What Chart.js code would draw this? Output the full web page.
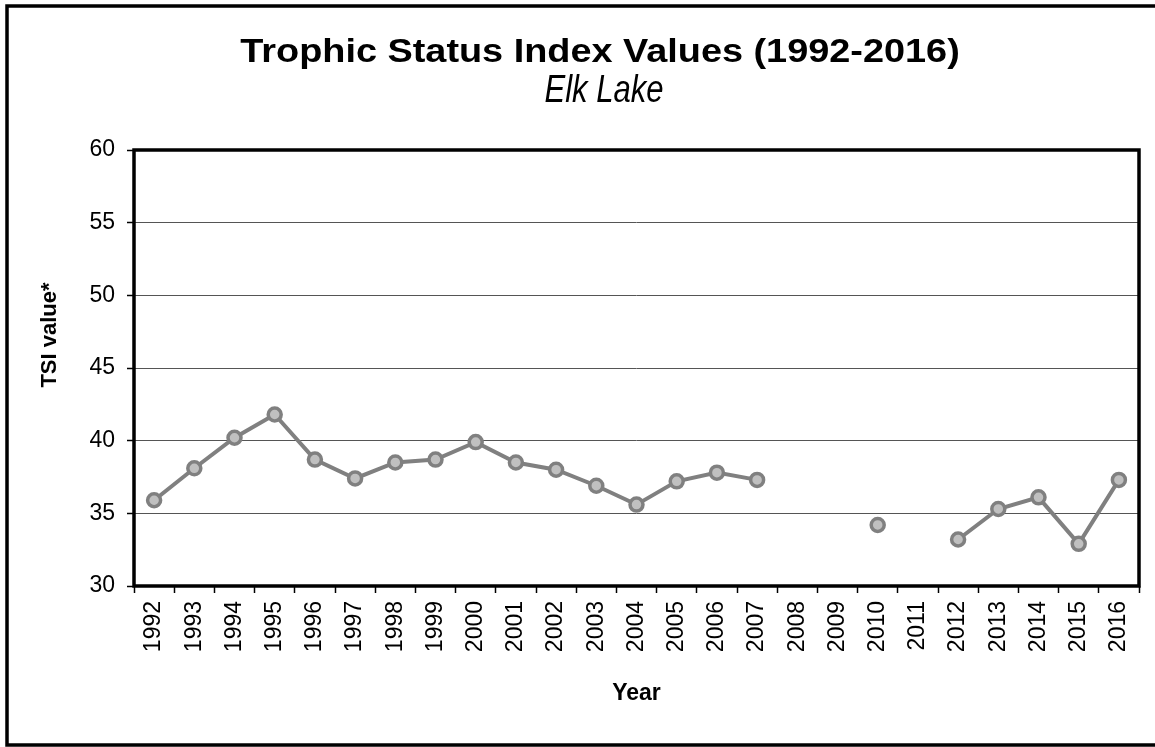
<!DOCTYPE html>
<html>
<head>
<meta charset="utf-8">
<title>Trophic Status Index Values - Elk Lake</title>
<script src="https://cdn.jsdelivr.net/npm/chart.js@4.4.1/dist/chart.umd.min.js"></script>
<style>
  html, body { margin: 0; padding: 0; background: #fff; }
  #wrap { width: 1155px; height: 747px; }
</style>
</head>
<body>
<div id="wrap"><canvas id="tsiChart" width="1155" height="747"></canvas></div>
<script>
// Datos del gráfico
const years = ["1992", "1993", "1994", "1995", "1996", "1997", "1998", "1999", "2000",
               "2001", "2002", "2003", "2004", "2005", "2006", "2007", "2008", "2009",
               "2010", "2011", "2012", "2013", "2014", "2015", "2016"];
const tsiValues = [35.9, 38.1, 40.2, 41.8, 38.7, 37.4, 38.5, 38.7, 39.9,
                   38.5, 38.0, 36.9, 35.6, 37.2, 37.8, 37.3, null, null,
                   34.2, null, 33.2, 35.3, 36.1, 32.9, 37.3];
const yTicks = [30, 35, 40, 45, 50, 55, 60];

const chartTitle = "Trophic Status Index Values (1992-2016)";
const chartSubtitle = "Elk Lake";
const yTitle = "TSI value*";
const xTitle = "Year";

const fontFamily = '"Liberation Sans", Arial, sans-serif';

// Plugin: fondo blanco, marco, borde del area y titulos
const marcoYTitulos = {
    id: 'marcoYTitulos',
    beforeDraw(chart) {
        const ctx = chart.ctx;
        ctx.save();
        ctx.fillStyle = '#fff';
        ctx.fillRect(0, 0, chart.width, chart.height);
        ctx.restore();
    },
    afterDraw(chart) {
        const { ctx, chartArea } = chart;
        ctx.save();
        // marco exterior (el lado derecho queda fuera del lienzo)
        ctx.strokeStyle = '#000';
        ctx.lineWidth = 3.5;
        ctx.strokeRect(7, 6, 1300, 739);
        // borde del area de trazado
        ctx.lineWidth = 3.5;
        ctx.strokeRect(chartArea.left, chartArea.top,
                       chartArea.right - chartArea.left, chartArea.bottom - chartArea.top);

        ctx.fillStyle = '#000';
        ctx.textAlign = 'center';
        ctx.textBaseline = 'alphabetic';

        // titulo
        ctx.save();
        ctx.font = 'bold 33px ' + fontFamily;
        ctx.translate(600, 62);
        ctx.scale(1.147, 1);
        ctx.fillText(chartTitle, 0, 0);
        ctx.restore();

        // subtitulo
        ctx.save();
        ctx.font = 'italic 38px ' + fontFamily;
        ctx.translate(604, 102);
        ctx.scale(0.817, 1);
        ctx.fillText(chartSubtitle, 0, 0);
        ctx.restore();

        // titulo del eje Y
        ctx.save();
        ctx.font = 'bold 22px ' + fontFamily;
        ctx.translate(50, 335);
        ctx.rotate(-Math.PI / 2);
        ctx.textBaseline = 'middle';
        ctx.fillText(yTitle, 0, 0);
        ctx.restore();

        ctx.restore();
    }
};

const ctx1 = document.getElementById("tsiChart").getContext("2d");
const tsiChart = new Chart(ctx1, {
    type: "line",
    data: {
        labels: years,
        datasets: [{
            label: "TSI",
            data: tsiValues,
            borderColor: "#808080",
            borderWidth: 4,
            backgroundColor: "#c0c0c0",
            pointBackgroundColor: "#c0c0c0",
            pointBorderColor: "#808080",
            pointBorderWidth: 3.5,
            pointRadius: 6.5,
            spanGaps: false,
            tension: 0,
        }],
    },
    options: {
        responsive: false,
        animation: false,
        layout: {
            padding: { top: 150, right: 16, left: 0, bottom: 0 },
        },
        plugins: {
            legend: { display: false },
            title: { display: false },
            tooltip: { enabled: false },
        },
        scales: {
            x: {
                type: "category",
                offset: true,
                afterFit: (scale) => { scale.height = 161; },
                grid: {
                    offset: true,
                    drawOnChartArea: false,
                    drawTicks: true,
                    tickLength: 7,
                    tickColor: "#000",
                    tickWidth: 1.5,
                },
                border: { display: false },
                ticks: {
                    color: "#000",
                    font: { family: fontFamily, size: 23 },
                    minRotation: 90,
                    maxRotation: 90,
                    padding: 8,
                    autoSkip: false,
                },
                title: {
                    display: true,
                    text: xTitle,
                    color: "#000",
                    font: { family: fontFamily, size: 23, weight: "bold" },
                    padding: { top: 0, bottom: 40 },
                },
            },
            y: {
                min: yTicks[0],
                max: yTicks[yTicks.length - 1],
                afterFit: (scale) => { scale.width = 134; },
                afterBuildTicks: (scale) => { scale.ticks = yTicks.map(v => ({ value: v })); },
                grid: {
                    color: "#555",
                    lineWidth: 1,
                    drawTicks: true,
                    tickLength: 7,
                    tickColor: "#000",
                    tickWidth: 1.5,
                },
                border: { display: false },
                ticks: {
                    color: "#000",
                    font: { family: fontFamily, size: 23 },
                    padding: 12,
                },
            },
        },
    },
    plugins: [marcoYTitulos],
});
</script>
</body>
</html>
